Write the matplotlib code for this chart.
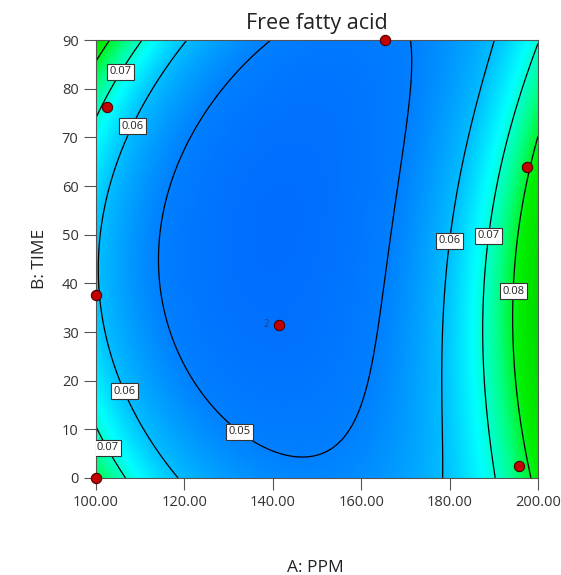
import numpy as np
import matplotlib
matplotlib.use("Agg")
import matplotlib.pyplot as plt
from matplotlib.colors import LinearSegmentedColormap, Normalize

plt.rcParams['font.family'] = ['Open Sans', 'DejaVu Sans']

# Factor ranges (actual units)
ppm_range = [100.0, 200.0]
time_range = [0.0, 90.0]

# Response surface in coded units x = (PPM-150)/50, y = (TIME-45)/45:
#   f = floor(y) + k2*d^2 + k4*d^4,  d = x - valley(y)
valley_coef = [-0.199, 0.0685, 0.2377]      # valley(y) = c0 + c1*y + c2*y^2
floor_coef = [0.0436, -0.00175, 0.00589]    # floor(y)  = c0 + c1*y + c2*y^2
curv_coef = [0.022, 0.0069]                 # k2, k4

# Contour levels and label anchor points (PPM, TIME)
levels = [0.05, 0.06, 0.07, 0.08]
label_ppm = [105.0, 107.7, 107.2, 104.5, 133.7, 180.3, 189.4, 195.0]
label_time = [83.8, 72.5, 18.1, 7.2, 10.9, 48.7, 49.7, 38.4]

# Design points
design_ppm = [100.0, 100.0, 102.5, 165.5, 197.5, 195.7, 141.3]
design_time = [0.0, 37.7, 76.3, 90.0, 64.0, 2.5, 31.5]
center_ppm, center_time, center_count = 141.3, 31.5, "2"

# Colour gradient stops (response value -> colour)
stop_values = [0.040, 0.050, 0.060, 0.067, 0.075, 0.082, 0.090]
stop_colors = ['#0064FF', '#0080FF', '#00BEFF', '#00FFFF', '#00FF82', '#00F000', '#00DC00']


def response(ppm, time):
    x = (ppm - 150.0) / 50.0
    y = (time - 45.0) / 45.0
    valley = valley_coef[0] + valley_coef[1] * y + valley_coef[2] * y ** 2
    floor = floor_coef[0] + floor_coef[1] * y + floor_coef[2] * y ** 2
    d = x - valley
    return floor + curv_coef[0] * d ** 2 + curv_coef[1] * d ** 4


vmin, vmax = stop_values[0], stop_values[-1]
pos = [(v - vmin) / (vmax - vmin) for v in stop_values]
cmap = LinearSegmentedColormap.from_list("ffa", list(zip(pos, stop_colors)))

A = np.linspace(ppm_range[0], ppm_range[1], 400)
B = np.linspace(time_range[0], time_range[1], 400)
AA, BB = np.meshgrid(A, B)
Z = response(AA, BB)

fig = plt.figure(figsize=(5.61, 5.75), dpi=100)
ax = fig.add_axes([0.171, 0.1687, 0.788, 0.7617])

ax.imshow(Z, extent=[ppm_range[0], ppm_range[1], time_range[0], time_range[1]],
          origin='lower', aspect='auto', cmap=cmap,
          norm=Normalize(vmin=vmin, vmax=vmax), interpolation='bilinear')

cs = ax.contour(AA, BB, Z, levels=levels, colors='black', linewidths=0.9)
texts = ax.clabel(cs, levels, inline=False, fmt='%.2f', fontsize=8,
                  manual=list(zip(label_ppm, label_time)))
for t in texts:
    t.set_rotation(0)
    t.set_color('#222222')
    t.set_bbox(dict(facecolor='white', edgecolor='#333333', linewidth=0.8, pad=1.8))
    t.set_zorder(5)

ax.scatter(design_ppm, design_time, s=55, color='#C40000', edgecolors='#4A0000',
           linewidths=0.8, zorder=6, clip_on=False)
ax.text(center_ppm - 2.2, center_time, center_count, fontsize=7, color='#2B3F78',
        ha='right', va='center', zorder=6)

ax.set_xlim(ppm_range)
ax.set_ylim(time_range)
ax.set_xticks(np.arange(100, 201, 20))
ax.set_xticklabels([f"{v:.2f}" for v in np.arange(100, 201, 20)])
ax.set_yticks(np.arange(0, 91, 10))
ax.tick_params(direction='out', length=8.5, width=0.8, color='#555555',
               labelsize=10.5, labelcolor='#333333', pad=4)
for s in ax.spines.values():
    s.set_color('#555555')
    s.set_linewidth(0.8)

ax.set_title("Free fatty acid", fontsize=15.5, color='#222222', pad=8)
fig.text(0.562, 0.012, "A: PPM", fontsize=12.5, color='#222222', ha='center', va='center')
fig.text(0.072, 0.55, "B: TIME", fontsize=12.5, color='#222222', ha='center', va='center',
         rotation=90)

fig.savefig("out.png", dpi=100)
